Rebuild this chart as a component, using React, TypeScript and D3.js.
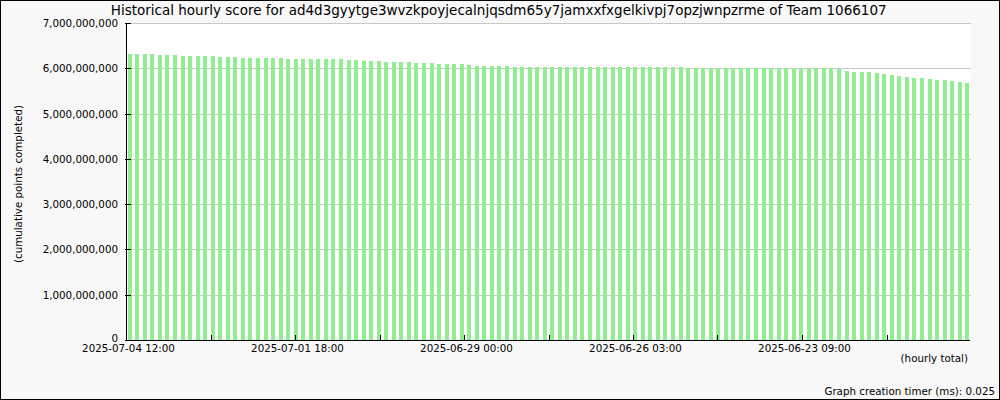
import React from "react";
import * as d3 from "d3";

// Hourly cumulative score (millions of points), newest (left) to oldest (right)
const scoresMillions: number[] = [
  6317, 6316, 6315, 6314,
  6295, 6293, 6292,
  6273, 6272, 6271, 6270, 6269,
  6250, 6249, 6248,
  6230, 6229, 6228, 6227, 6226, 6225,
  6208, 6207, 6206, 6205, 6204, 6204, 6203, 6202,
  6184, 6182,
  6162, 6161, 6160,
  6141, 6140, 6139, 6137,
  6118, 6117, 6116,
  6096, 6095, 6094, 6093,
  6073,
  6052, 6051, 6050, 6050, 6049,
  6032, 6032, 6031, 6031, 6031, 6030, 6030, 6030, 6030, 6029, 6029, 6029,
  6029, 6028, 6028, 6028, 6028, 6027, 6027, 6027, 6026, 6026, 6025,
  6010, 6010, 6009, 6009, 6009, 6008, 6008, 6008, 6007, 6007, 6007, 6006,
  6006, 6006, 6005, 6005, 6004, 6004, 6003, 6003,
  5985,
  5941,
  5920, 5918, 5916,
  5896, 5874, 5852, 5830, 5808,
  5786, 5784,
  5763,
  5742, 5740,
  5719, 5697, 5675,
];

const yTicks: number[] = [0, 1e9, 2e9, 3e9, 4e9, 5e9, 6e9, 7e9];

// x-axis tick slots (10 equal slots); labels on every other slot ("" = tick only)
const xTickLabels: string[] = [
  "2025-07-04 12:00",
  "",
  "2025-07-01 18:00",
  "",
  "2025-06-29 00:00",
  "",
  "2025-06-26 03:00",
  "",
  "2025-06-23 09:00",
  "",
];

const title =
  "Historical hourly score for ad4d3gyytge3wvzkpoyjecalnjqsdm65y7jamxxfxgelkivpj7opzjwnpzrme of Team 1066107";
const yTitle = "(cumulative points completed)";
const xTitle = "(hourly total)";
const footer = "Graph creation timer (ms): 0.025";

const W = 1000;
const H = 400;
const plot = { left: 126, right: 971, top: 23, bottom: 340 };
const FONT = "'DejaVu Sans', sans-serif";

export default function App() {
  const values = scoresMillions.map((v) => v * 1e6);
  const idx = values.map((_, i) => i);

  const x = d3
    .scaleBand<number>()
    .domain(idx)
    .range([plot.left, plot.right])
    .paddingInner(0.47)
    .paddingOuter(0.235);

  const y = d3.scaleLinear().domain([0, 7e9]).range([plot.bottom, plot.top]);

  const xt = d3
    .scaleLinear()
    .domain([0, xTickLabels.length])
    .range([plot.left, plot.right]);

  const fmtNum = d3.format(",");

  return (
    <svg
      width={W}
      height={H}
      style={{ position: "absolute", left: 0, top: 0, display: "block" }}
      fontFamily={FONT}
    >
      <rect x={0.5} y={0.5} width={W - 1} height={H - 1} fill="#f8f8f8" stroke="#000" />
      <rect
        x={plot.left}
        y={plot.top}
        width={plot.right - plot.left}
        height={plot.bottom - plot.top}
        fill="#ffffff"
      />
      {/* gridlines */}
      {yTicks.slice(1).map((t) => (
        <line
          key={"g" + t}
          x1={plot.left}
          x2={plot.right}
          y1={Math.round(y(t)) + 0.5}
          y2={Math.round(y(t)) + 0.5}
          stroke="#c8c8c8"
          strokeWidth={1}
        />
      ))}
      {/* bars */}
      {values.map((v, i) => {
        const x0 = Math.round(x(i) as number);
        const yTop = Math.round(y(v));
        return (
          <rect
            key={i}
            x={x0}
            y={yTop}
            width={Math.round(x.bandwidth())}
            height={plot.bottom - yTop}
            fill="#90ee90"
            shapeRendering="crispEdges"
          />
        );
      })}
      {/* axes */}
      <line x1={plot.left + 0.5} x2={plot.left + 0.5} y1={plot.top} y2={plot.bottom + 1} stroke="#000" />
      <line x1={plot.left} x2={plot.right - 1} y1={plot.bottom + 0.5} y2={plot.bottom + 0.5} stroke="#000" />
      {yTicks.map((t) => {
        const yy = Math.round(y(t));
        return (
          <g key={"y" + t}>
            <line x1={plot.left - 1} x2={plot.left + 5} y1={yy + 0.5} y2={yy + 0.5} stroke="#000" />
            <text x={118} y={t === 0 ? yy + 1.8 : yy + 3.6} textAnchor="end" fontSize={10.3} fill="#000">
              {fmtNum(t)}
            </text>
          </g>
        );
      })}
      {xTickLabels.map((lab, k) => {
        const xx = Math.round(xt(k));
        return (
          <g key={"x" + k}>
            {k > 0 && (
              <line x1={xx + 0.5} x2={xx + 0.5} y1={plot.bottom - 5} y2={plot.bottom} stroke="#000" />
            )}
            {lab && (
              <text x={xt(k) + 2.5} y={352} textAnchor="middle" fontSize={10.3} fill="#000">
                {lab}
              </text>
            )}
          </g>
        );
      })}
      {/* titles */}
      <text x={498.7} y={15} textAnchor="middle" fontSize={13.5} fill="#000">
        {title}
      </text>
      <text
        transform={`translate(21.5, ${(plot.top + plot.bottom) / 2 + 2.5}) rotate(-90)`}
        textAnchor="middle"
        fontSize={10.3}
        fill="#000"
      >
        {yTitle}
      </text>
      <text x={968} y={362} textAnchor="end" fontSize={10.3} fill="#000">
        {xTitle}
      </text>
      <text x={995} y={395} textAnchor="end" fontSize={10.3} fill="#000">
        {footer}
      </text>
    </svg>
  );
}
